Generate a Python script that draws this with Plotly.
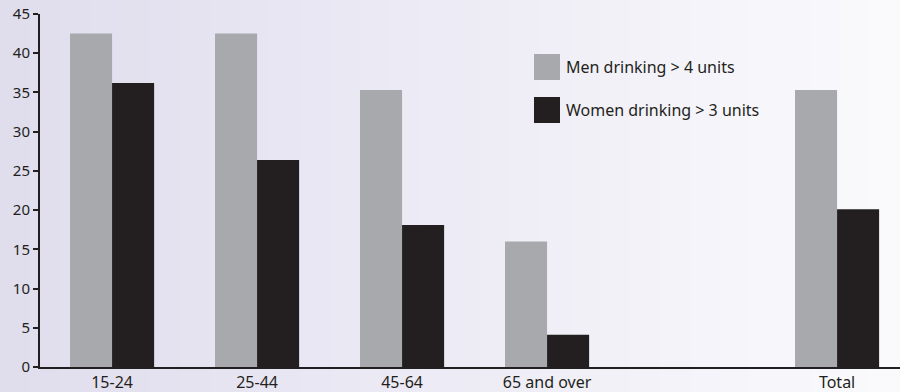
import plotly.graph_objects as go

categories = ["15-24", "25-44", "45-64", "65 and over", " ", "Total"]
men = [42.5, 42.5, 35.3, 16.0, None, 35.3]
women = [36.2, 26.4, 18.1, 4.1, None, 20.1]
series_names = ["Men drinking > 4 units", "Women drinking > 3 units"]
y_ticks = [0, 5, 10, 15, 20, 25, 30, 35, 40, 45]

GRAY = "#a8a9ad"
DARK = "#231f20"
FONT = "Noto Sans"

W, H = 900, 392
ML, MR, MT, MB = 40, 0, 14, 25
PW, PH = W - ML - MR, H - MT - MB

def px_to_paper_x(px):
    return (px - ML) / PW

def px_to_paper_y(py):
    return (H - MB - py) / PH

fig = go.Figure()
fig.add_trace(go.Bar(x=categories, y=men, name=series_names[0], marker_color=GRAY,
                     marker_line_width=0, showlegend=False))
fig.add_trace(go.Bar(x=categories, y=women, name=series_names[1], marker_color=DARK,
                     marker_line_width=0, showlegend=False))

# background gradient as vertical stripes
shapes = []
n = 30
c0 = (224, 221, 237)
c1 = (250, 250, 253)
for i in range(n):
    t = i / (n - 1)
    col = tuple(round(c0[k] + (c1[k] - c0[k]) * t) for k in range(3))
    x0 = i * W / n
    x1 = (i + 1) * W / n + 1
    shapes.append(dict(type="rect", xref="paper", yref="paper",
                       x0=px_to_paper_x(x0), x1=px_to_paper_x(x1),
                       y0=px_to_paper_y(H), y1=px_to_paper_y(0),
                       fillcolor="rgb(%d,%d,%d)" % col, line_width=0, layer="below"))

# custom legend
annotations = []
leg_colors = [GRAY, DARK]
leg_y = [67, 110]
for name, col, cy in zip(series_names, leg_colors, leg_y):
    shapes.append(dict(type="rect", xref="paper", yref="paper",
                       x0=px_to_paper_x(534), x1=px_to_paper_x(560),
                       y0=px_to_paper_y(cy + 13), y1=px_to_paper_y(cy - 13),
                       fillcolor=col, line_width=0, layer="above"))
    annotations.append(dict(xref="paper", yref="paper", x=px_to_paper_x(564),
                            y=px_to_paper_y(cy), text=name, showarrow=False,
                            xanchor="left", yanchor="middle",
                            font=dict(family=FONT, size=16, color=DARK)))

fig.update_layout(
    width=W, height=H,
    margin=dict(l=ML, r=MR, t=MT, b=MB, pad=0),
    paper_bgcolor="rgb(240,239,247)",
    plot_bgcolor="rgba(0,0,0,0)",
    barmode="group", bargap=0.42, bargroupgap=0,
    shapes=shapes, annotations=annotations,
    showlegend=False,
    font=dict(family=FONT, size=16, color=DARK),
)
fig.update_xaxes(type="category", categoryorder="array", categoryarray=categories,
                 range=[-0.497, 5.434], showline=True, linecolor=DARK, linewidth=2,
                 ticks="", showgrid=False, zeroline=False, fixedrange=True,
                 tickfont=dict(family=FONT, size=16, color=DARK))
fig.update_yaxes(range=[0, 45], tickvals=y_ticks, showline=True, linecolor=DARK,
                 linewidth=2, ticks="outside", ticklen=5, tickwidth=2, tickcolor=DARK,
                 showgrid=False, zeroline=False, fixedrange=True,
                 tickfont=dict(family=FONT, size=15, color=DARK))

fig.write_html("out.html", config={"displayModeBar": False})
